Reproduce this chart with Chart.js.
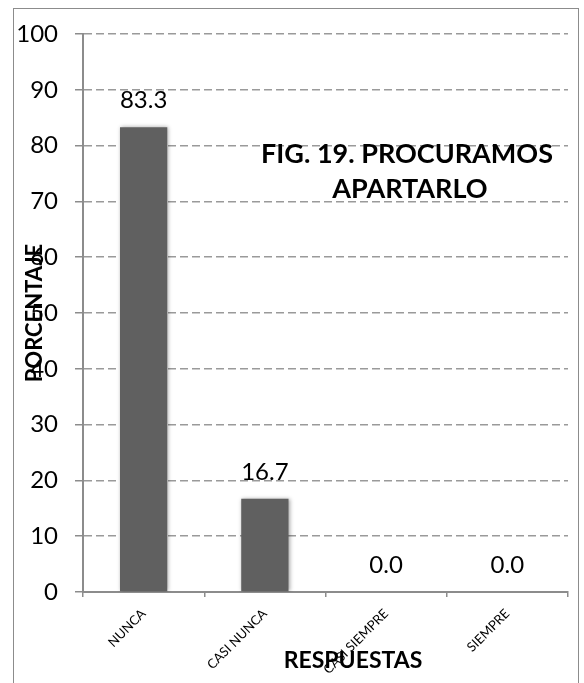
<!DOCTYPE html>
<html>
<head>
<meta charset="utf-8">
<script src="https://cdn.jsdelivr.net/npm/chart.js@4"></script>
<style>
  html, body { margin: 0; padding: 0; background: #fff; }
  #wrap { position: relative; width: 584px; height: 683px; }
  #frame { position: absolute; left: 13px; top: 8px; width: 566px; height: 700px; border: 1px solid #8c8c8c; box-sizing: border-box; }
  canvas { position: absolute; left: 0; top: 0; }
</style>
</head>
<body>
<div id="wrap">
  <div id="frame"></div>
  <canvas id="grafico" width="584" height="683"></canvas>
</div>
<script>
// ===== DATOS =====
const categorias = ['NUNCA', 'CASI NUNCA', 'CASI SIEMPRE', 'SIEMPRE'];
const porcentajes = [83.3, 16.7, 0.0, 0.0];
const ticksY = [0, 10, 20, 30, 40, 50, 60, 70, 80, 90, 100];

const FUENTE = 'Lato, "Open Sans", sans-serif';
const GRIS_EJE = '#8c8c8c';

// ===== PLUGINS =====
// etiquetas de valor encima de cada barra
const etiquetasValor = {
  id: 'etiquetasValor',
  afterDatasetsDraw: function(chart) {
    const ctx = chart.ctx;
    const meta = chart.getDatasetMeta(0);
    ctx.save();
    ctx.font = '24px ' + FUENTE;
    ctx.fillStyle = '#000';
    ctx.textAlign = 'center';
    ctx.textBaseline = 'middle';
    meta.data.forEach(function(bar, i) {
      ctx.fillText(porcentajes[i].toFixed(1), bar.x, bar.y - 27);
    });
    ctx.restore();
  }
};

// sombra suave de las barras
const sombraBarras = {
  id: 'sombraBarras',
  beforeDatasetDraw: function(chart) {
    const ctx = chart.ctx;
    ctx.save();
    ctx.shadowColor = 'rgba(0,0,0,0.35)';
    ctx.shadowBlur = 4;
    ctx.shadowOffsetX = 1;
    ctx.shadowOffsetY = 0;
  },
  afterDatasetDraw: function(chart) {
    chart.ctx.restore();
  }
};

// título y nombres de ejes
const textosGrafico = {
  id: 'textosGrafico',
  afterDraw: function(chart) {
    const ctx = chart.ctx;
    ctx.save();
    ctx.fillStyle = '#000';
    ctx.textAlign = 'center';
    ctx.textBaseline = 'middle';

    ctx.font = 'bold 27px ' + FUENTE;
    ctx.fillText('FIG. 19. PROCURAMOS', 407, 154);
    ctx.fillText('APARTARLO', 410, 189);

    ctx.font = 'bold 23px ' + FUENTE;
    ctx.fillText('RESPUESTAS', 353, 661);

    ctx.translate(35, 313);
    ctx.rotate(-Math.PI / 2);
    ctx.font = 'bold 22px ' + FUENTE;
    ctx.fillText('PORCENTAJE', 0, 0);
    ctx.restore();
  }
};

// ===== GRÁFICO =====
new Chart(document.getElementById('grafico'), {
  type: 'bar',
  data: {
    labels: categorias,
    datasets: [{
      data: porcentajes,
      backgroundColor: '#606060',
      borderWidth: 0,
      categoryPercentage: 1,
      barPercentage: 0.39
    }]
  },
  options: {
    responsive: false,
    animation: false,
    layout: { padding: { left: 0, right: 16, top: 34, bottom: 0 } },
    plugins: {
      legend: { display: false },
      tooltip: { enabled: false }
    },
    scales: {
      y: {
        min: 0,
        max: 100,
        afterBuildTicks: function(scale) {
          scale.ticks = ticksY.map(function(v) { return { value: v }; });
        },
        afterFit: function(scale) { scale.width = 83; },
        border: { color: GRIS_EJE, width: 2, dash: [8, 4] },
        grid: {
          color: '#9a9a9a',
          lineWidth: 1.5,
          tickBorderDash: [],
          tickLength: 8,
          tickColor: GRIS_EJE
        },
        ticks: {
          color: '#000',
          font: { family: FUENTE, size: 24 },
          padding: 17
        }
      },
      x: {
        afterFit: function(scale) { scale.height = 91; },
        border: { color: GRIS_EJE, width: 2 },
        grid: {
          drawOnChartArea: false,
          drawTicks: true,
          tickLength: 5,
          tickColor: GRIS_EJE,
          lineWidth: 1.5
        },
        ticks: {
          color: '#000',
          font: { family: FUENTE, size: 13 },
          maxRotation: 45,
          minRotation: 45,
          padding: 9
        }
      }
    }
  },
  plugins: [sombraBarras, etiquetasValor, textosGrafico]
});
</script>
</body>
</html>
